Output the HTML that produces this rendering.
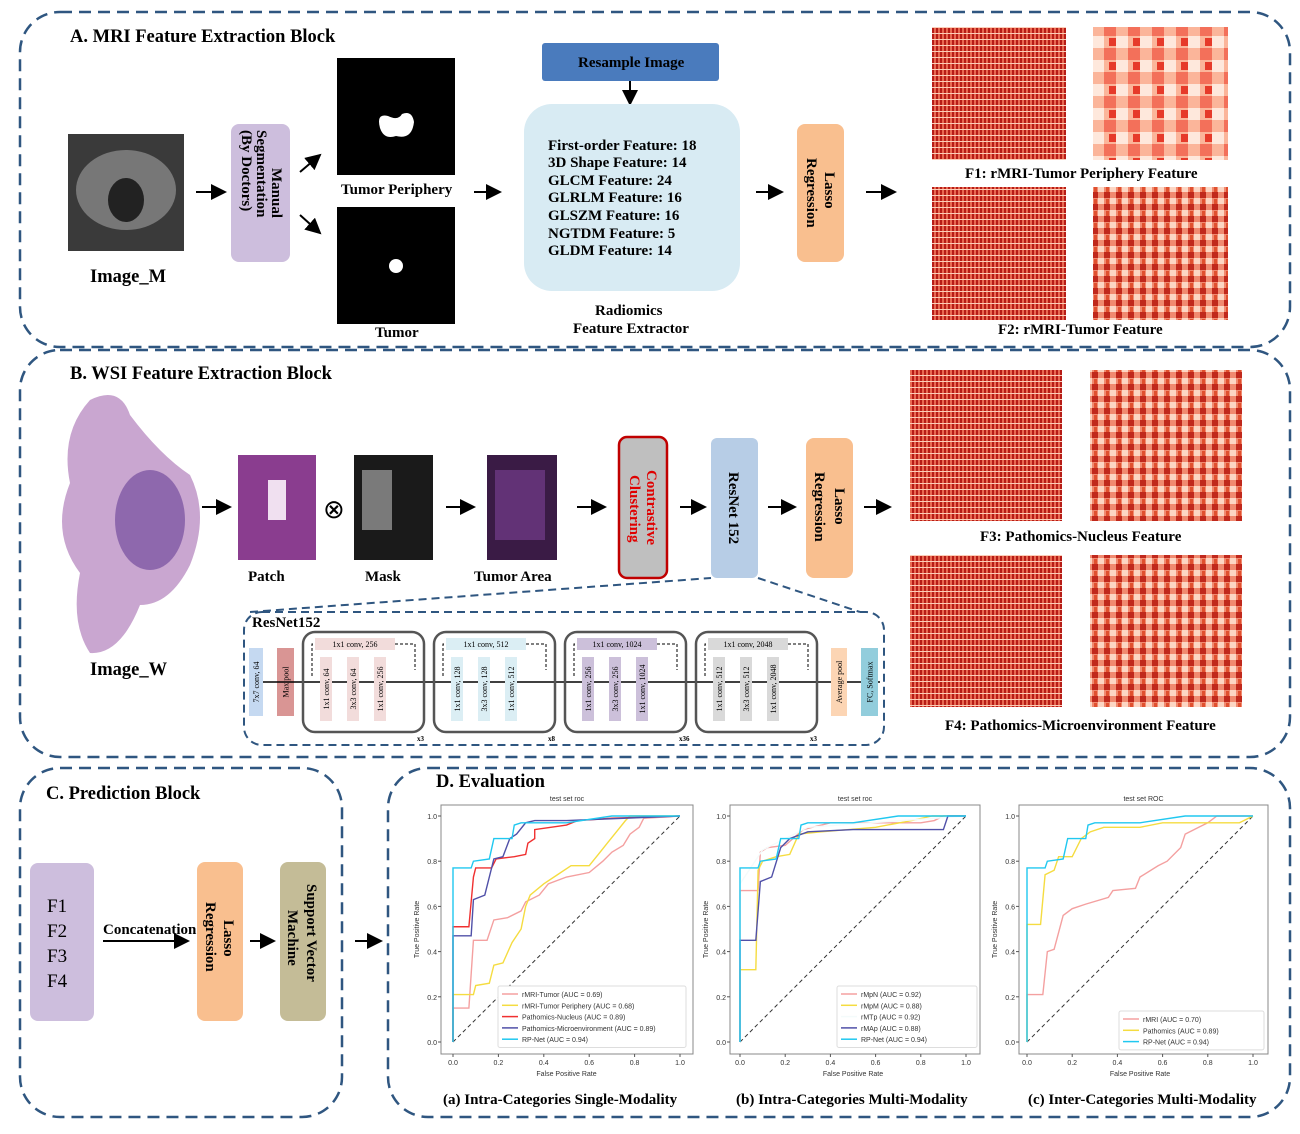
<!DOCTYPE html>
<html><head><meta charset="utf-8"><style>
body{margin:0;background:#fff}
svg{display:block;font-family:"Liberation Serif",serif}
.t{font-weight:bold;font-size:18.5px;fill:#000}
.s{font-weight:bold;font-size:15px;fill:#000}
.d{fill:none;stroke:#2f5680;stroke-width:2.5;stroke-dasharray:12 7}
.ax{font-family:"Liberation Sans",sans-serif;font-size:7px;fill:#333}
</style></head><body>
<svg id="root" width="1300" height="1134" viewBox="0 0 1300 1134">
<defs>
<pattern id="hm1" width="12" height="12" patternUnits="userSpaceOnUse"><rect width="12" height="12" fill="#f08a70"/><rect width="6" height="6" fill="#c0281c"/><rect x="6" y="6" width="6" height="6" fill="#fcd6c4"/><rect x="2" y="7" width="3" height="5" fill="#e0502f"/></pattern>
<pattern id="hm2" width="24" height="24" patternUnits="userSpaceOnUse"><rect width="24" height="24" fill="#fbb59a"/><rect width="12" height="12" fill="#f3705a"/><rect x="12" y="12" width="12" height="12" fill="#fee8dc"/><rect x="5" y="14" width="7" height="8" fill="#e63a2a"/></pattern>
<pattern id="hm3" width="4" height="6" patternUnits="userSpaceOnUse"><rect width="4" height="6" fill="#e86a52"/><rect width="2" height="6" fill="#b71c16"/><rect y="3" width="4" height="1" fill="#fbcdb8"/></pattern>
<marker id="ar" markerWidth="8" markerHeight="8" refX="7" refY="4" orient="auto"><path d="M0,0L8,4L0,8z" fill="#000"/></marker>
</defs>

<!-- Block A -->
<rect class="d" x="20" y="12" width="1270" height="335" rx="40"/>
<text class="t" x="70" y="42">A. MRI Feature Extraction Block</text>
<rect x="68" y="134" width="116" height="117" fill="#3a3a3a"/>
<ellipse cx="126" cy="190" rx="50" ry="40" fill="#777"/><ellipse cx="126" cy="200" rx="18" ry="22" fill="#222"/>
<text class="t" x="90" y="282" font-size="16.5">Image_M</text>
<line x1="196" y1="192" x2="225" y2="192" stroke="#000" stroke-width="2" marker-end="url(#ar)"/>
<rect x="231" y="124" width="59" height="138" rx="8" fill="#cdbedd"/>
<text class="s" transform="translate(272,168) rotate(90)">Manual</text>
<text class="s" transform="translate(257,130) rotate(90)">Segmentation</text>
<text class="s" transform="translate(242,130) rotate(90)">(By Doctors)</text>
<line x1="300" y1="172" x2="320" y2="155" stroke="#000" stroke-width="2" marker-end="url(#ar)"/>
<line x1="300" y1="215" x2="320" y2="233" stroke="#000" stroke-width="2" marker-end="url(#ar)"/>
<rect x="337" y="58" width="118" height="117" fill="#000"/>
<path d="M380,128 q-4,-15 8,-12 q10,5 14,-2 q10,-4 12,8 q-2,18 -18,14 q-12,4 -16,-8z" fill="#fff"/>
<text class="s" x="341" y="194" font-size="16">Tumor Periphery</text>
<rect x="337" y="207" width="118" height="117" fill="#000"/>
<circle cx="396" cy="266" r="7" fill="#fff"/>
<text class="s" x="375" y="337" font-size="16">Tumor</text>
<line x1="474" y1="192" x2="500" y2="192" stroke="#000" stroke-width="2" marker-end="url(#ar)"/>
<rect x="542" y="43" width="177" height="38" rx="3" fill="#4a7bbd"/>
<text class="s" x="578" y="67">Resample Image</text>
<line x1="630" y1="81" x2="630" y2="104" stroke="#000" stroke-width="2" marker-end="url(#ar)"/>
<rect x="524" y="104" width="216" height="187" rx="28" fill="#d8ebf3"/>
<g>
<text class="s" x="548" y="150">First-order  Feature: 18</text>
<text class="s" x="548" y="167">3D Shape Feature: 14</text>
<text class="s" x="548" y="185">GLCM Feature: 24</text>
<text class="s" x="548" y="202">GLRLM Feature: 16</text>
<text class="s" x="548" y="220">GLSZM Feature: 16</text>
<text class="s" x="548" y="238">NGTDM Feature: 5</text>
<text class="s" x="548" y="255">GLDM Feature: 14</text></g>
<text class="s" x="595" y="315">Radiomics</text>
<text class="s" x="573" y="333">Feature Extractor</text>
<line x1="756" y1="192" x2="782" y2="192" stroke="#000" stroke-width="2" marker-end="url(#ar)"/>
<rect x="797" y="124" width="47" height="138" rx="8" fill="#f9bf8f"/>
<text class="s" font-size="16" transform="translate(825,172) rotate(90)">Lasso</text>
<text class="s" font-size="16" transform="translate(807,158) rotate(90)">Regression</text>
<line x1="866" y1="192" x2="895" y2="192" stroke="#000" stroke-width="2" marker-end="url(#ar)"/>
<rect x="932" y="27" width="134" height="133" fill="url(#hm3)"/>
<rect x="1093" y="27" width="135" height="133" fill="url(#hm2)"/>
<text class="s" x="965" y="178">F1:  rMRI-Tumor Periphery Feature</text>
<rect x="932" y="187" width="134" height="133" fill="url(#hm3)"/>
<rect x="1093" y="187" width="135" height="133" fill="url(#hm1)"/>
<text class="s" x="998" y="334">F2:  rMRI-Tumor Feature</text>

<!-- Block B -->
<rect class="d" x="20" y="350" width="1270" height="407" rx="40"/>
<text class="t" x="70" y="379">B. WSI Feature Extraction Block</text>
<path d="M90,400 q30,-15 40,15 q30,40 60,60 q20,40 0,90 q-20,40 -50,40 q-20,50 -50,48 q-20,-30 -10,-80 q-30,-40 -10,-90 q-10,-50 20,-83z" fill="#c9a6d0"/>
<ellipse cx="150" cy="520" rx="35" ry="50" fill="#8e68ad"/>
<text class="t" x="90" y="675" font-size="16.5">Image_W</text>
<line x1="202" y1="507" x2="230" y2="507" stroke="#000" stroke-width="2" marker-end="url(#ar)"/>
<rect x="238" y="455" width="78" height="105" fill="#8a3d8f"/>
<rect x="268" y="480" width="18" height="40" fill="#f0e0f0"/>
<text class="s" x="248" y="581" font-size="15">Patch</text>
<text x="323" y="518" font-size="26" font-family="DejaVu Sans">⊗</text>
<rect x="354" y="455" width="79" height="105" fill="#1a1a1a"/>
<rect x="362" y="470" width="30" height="60" fill="#bbb" opacity=".6"/>
<text class="s" x="365" y="581" font-size="15">Mask</text>
<line x1="446" y1="507" x2="474" y2="507" stroke="#000" stroke-width="2" marker-end="url(#ar)"/>
<rect x="487" y="455" width="70" height="105" fill="#3a1b45"/>
<rect x="495" y="470" width="50" height="70" fill="#8a4aa8" opacity=".5"/>
<text class="s" x="474" y="581" font-size="15">Tumor Area</text>
<line x1="577" y1="507" x2="605" y2="507" stroke="#000" stroke-width="2" marker-end="url(#ar)"/>
<rect x="619" y="437" width="48" height="141" rx="8" fill="#bfbfbf" stroke="#c00000" stroke-width="2.5"/>
<text class="s" style="fill:#e00000" font-size="15" transform="translate(647,470) rotate(90)">Contrastive</text>
<text class="s" style="fill:#e00000" font-size="15" transform="translate(630,475) rotate(90)">Clustering</text>
<line x1="680" y1="507" x2="705" y2="507" stroke="#000" stroke-width="2" marker-end="url(#ar)"/>
<rect x="711" y="438" width="47" height="140" rx="6" fill="#b7cde6"/>
<text class="s" font-size="15" transform="translate(729,472) rotate(90)">ResNet 152</text>
<line x1="768" y1="507" x2="795" y2="507" stroke="#000" stroke-width="2" marker-end="url(#ar)"/>
<rect x="806" y="438" width="47" height="140" rx="8" fill="#f9bf8f"/>
<text class="s" font-size="16" transform="translate(835,488) rotate(90)">Lasso</text>
<text class="s" font-size="16" transform="translate(815,472) rotate(90)">Regression</text>
<line x1="864" y1="507" x2="890" y2="507" stroke="#000" stroke-width="2" marker-end="url(#ar)"/>
<rect x="910" y="370" width="152" height="151" fill="url(#hm3)"/>
<rect x="1090" y="370" width="152" height="151" fill="url(#hm1)"/>
<text class="s" x="980" y="541">F3:  Pathomics-Nucleus Feature</text>
<rect x="910" y="555" width="152" height="152" fill="url(#hm3)"/>
<rect x="1090" y="555" width="152" height="152" fill="url(#hm1)"/>
<text class="s" x="945" y="730">F4:  Pathomics-Microenvironment Feature</text>
<path d="M250,612 L711,578 M758,578 L860,612" stroke="#2f5680" stroke-width="2" stroke-dasharray="8 5" fill="none"/>
<rect x="244" y="612" width="640" height="133" rx="18" fill="none" stroke="#2f5680" stroke-width="2" stroke-dasharray="8 5"/>
<text class="s" x="252" y="627" font-size="12">ResNet152</text>
<g id="resnet" font-size="8"></g>

<!-- Block C -->
<rect class="d" x="20" y="768" width="322" height="349" rx="40"/>
<text class="t" x="46" y="799" font-size="17.5">C. Prediction Block</text>
<rect x="30" y="863" width="64" height="158" rx="8" fill="#cdbedd"/>
<g font-size="19" font-family="Liberation Serif"><text x="47" y="912">F1</text><text x="47" y="937">F2</text><text x="47" y="962">F3</text><text x="47" y="987">F4</text></g>
<text class="s" x="103" y="934" font-size="14.5">Concatenation</text>
<line x1="103" y1="941" x2="188" y2="941" stroke="#000" stroke-width="2" marker-end="url(#ar)"/>
<rect x="197" y="862" width="46" height="159" rx="8" fill="#f9bf8f"/>
<text class="s" font-size="17" transform="translate(224,920) rotate(90)">Lasso</text>
<text class="s" font-size="17" transform="translate(206,902) rotate(90)">Regression</text>
<line x1="250" y1="941" x2="274" y2="941" stroke="#000" stroke-width="2" marker-end="url(#ar)"/>
<rect x="280" y="862" width="46" height="159" rx="8" fill="#c4bc97"/>
<text class="s" font-size="17" transform="translate(307,884) rotate(90)">Support Vector</text>
<text class="s" font-size="17" transform="translate(288,910) rotate(90)">Machine</text>
<line x1="355" y1="941" x2="381" y2="941" stroke="#000" stroke-width="2" marker-end="url(#ar)"/>

<!-- Block D -->
<rect class="d" x="388" y="768" width="902" height="349" rx="40"/>
<text class="t" x="436" y="787" font-size="17.5">D. Evaluation</text>
<g id="charts"></g>
<text class="s" x="443" y="1104" font-size="14.5">(a) Intra-Categories Single-Modality</text>
<text class="s" x="736" y="1104" font-size="14.5">(b) Intra-Categories Multi-Modality</text>
<text class="s" x="1028" y="1104" font-size="14.5">(c) Inter-Categories Multi-Modality</text>
</svg>
<script>
const NS='http://www.w3.org/2000/svg';
function mk(tag,attrs,parent){const e=document.createElementNS(NS,tag);for(const k in attrs)e.setAttribute(k,attrs[k]);parent.appendChild(e);return e;}
// ---- ROC data ----
const ticks=[0,0.2,0.4,0.6,0.8,1.0];
const titlesA=['test set roc','test set roc','test set ROC'];
const rpNet=[[0,0],[0,0.77],[0.08,0.77],[0.09,0.8],[0.16,0.81],[0.18,0.9],[0.26,0.9],[0.27,0.96],[0.3,0.97],[0.5,0.97],[0.7,1],[1,1]];
const aTumor=[[0,0],[0,0.15],[0.07,0.15],[0.09,0.45],[0.15,0.45],[0.18,0.54],[0.24,0.55],[0.3,0.58],[0.32,0.62],[0.38,0.65],[0.42,0.7],[0.5,0.73],[0.6,0.75],[0.66,0.8],[0.7,0.84],[0.75,0.87],[0.78,0.92],[0.82,0.95],[0.84,0.99],[1,1]];
const aPeri=[[0,0],[0,0.21],[0.09,0.21],[0.1,0.25],[0.16,0.26],[0.18,0.34],[0.22,0.35],[0.26,0.44],[0.3,0.5],[0.32,0.6],[0.34,0.65],[0.4,0.7],[0.46,0.74],[0.52,0.78],[0.6,0.78],[0.64,0.83],[0.68,0.88],[0.72,0.93],[0.76,0.98],[0.78,1],[1,1]];
const aNuc=[[0,0],[0,0.51],[0.07,0.51],[0.09,0.73],[0.1,0.77],[0.17,0.77],[0.19,0.81],[0.27,0.82],[0.32,0.83],[0.33,0.88],[0.36,0.9],[0.36,0.94],[0.5,0.96],[0.55,0.98],[0.7,0.99],[1,1]];
const aMicro=[[0,0],[0,0.47],[0.08,0.47],[0.09,0.63],[0.14,0.65],[0.18,0.81],[0.22,0.82],[0.25,0.9],[0.28,0.92],[0.32,0.97],[0.36,0.98],[0.5,0.98],[1,1]];
const bMpN=[[0,0],[0,0.67],[0.08,0.67],[0.09,0.84],[0.12,0.86],[0.2,0.87],[0.28,0.94],[0.4,0.97],[0.8,0.97],[0.86,0.98],[0.9,1],[1,1]];
const bMpM=[[0,0],[0,0.32],[0.07,0.32],[0.08,0.76],[0.1,0.8],[0.16,0.82],[0.22,0.83],[0.26,0.92],[0.36,0.93],[0.6,0.95],[0.76,0.98],[0.85,1],[1,1]];
const bMTp=[[0,0],[0,0.7],[0.1,0.85],[0.3,0.95],[1,1]];
const bMAp=[[0,0],[0,0.45],[0.07,0.45],[0.09,0.71],[0.14,0.73],[0.18,0.86],[0.22,0.9],[0.3,0.93],[0.5,0.94],[0.9,0.94],[0.92,1],[1,1]];
const cMRI=[[0,0],[0,0.21],[0.07,0.21],[0.09,0.4],[0.12,0.41],[0.16,0.56],[0.2,0.59],[0.26,0.61],[0.36,0.64],[0.38,0.67],[0.48,0.68],[0.5,0.73],[0.58,0.78],[0.62,0.8],[0.68,0.86],[0.7,0.92],[0.76,0.95],[0.8,0.97],[0.84,1],[1,1]];
const cPath=[[0,0],[0,0.52],[0.06,0.52],[0.08,0.74],[0.12,0.76],[0.14,0.82],[0.2,0.82],[0.24,0.9],[0.28,0.93],[0.34,0.95],[0.5,0.95],[0.6,0.97],[0.94,0.97],[1,1]];
const labelsA=['rMRI-Tumor (AUC = 0.69)','rMRI-Tumor Periphery (AUC = 0.68)','Pathomics-Nucleus (AUC = 0.89)','Pathomics-Microenvironment (AUC = 0.89)','RP-Net (AUC = 0.94)'];
const labelsB=['rMpN (AUC = 0.92)','rMpM (AUC = 0.88)','rMTp (AUC = 0.92)','rMAp (AUC = 0.88)','RP-Net (AUC = 0.94)'];
const labelsC=['rMRI (AUC = 0.70)','Pathomics (AUC = 0.89)','RP-Net (AUC = 0.94)'];
const charts=[
 {x0:441,x1:693,tx0:453,tx1:680,series:[aTumor,aPeri,aNuc,aMicro,rpNet],labels:labelsA,colors:['#f4a0a0','#f5dc40','#f03030','#5050a8','#20c8f0'],leg:[498,988,188]},
 {x0:730,x1:980,tx0:740,tx1:966,series:[bMpN,bMpM,bMTp,bMAp,rpNet],labels:labelsB,colors:['#f4a0a0','#f5dc40','#f4fbfb','#5050a8','#20c8f0'],leg:[837,988,140]},
 {x0:1019,x1:1268,tx0:1027,tx1:1253,series:[cMRI,cPath,rpNet],labels:labelsC,colors:['#f4a0a0','#f5dc40','#20c8f0'],leg:[1119,1013,145]}];
const g=document.getElementById('charts');
const yTop=805,yBot=1054,ty1=816,ty0=1042;
charts.forEach((c,i)=>{
 const sx=v=>c.tx0+v*(c.tx1-c.tx0), sy=v=>ty0-v*(ty0-ty1);
 const cg=mk('g',{},g);
 
 
 mk('rect',{x:c.x0,y:yTop,width:c.x1-c.x0,height:yBot-yTop,fill:'#fff',stroke:'#888','stroke-width':1},cg);
 const tt=mk('text',{x:(c.x0+c.x1)/2,y:801,'text-anchor':'middle',class:'ax','font-size':'9'},cg);tt.textContent=titlesA[i];
 ticks.forEach(t=>{
  const a=mk('text',{x:sx(t),y:yBot+11,'text-anchor':'middle',class:'ax'},cg);a.textContent=t.toFixed(1);
  const b=mk('text',{x:c.x0-4,y:sy(t)+3,'text-anchor':'end',class:'ax'},cg);b.textContent=t.toFixed(1);
  mk('line',{x1:sx(t),x2:sx(t),y1:yBot,y2:yBot+3,stroke:'#555'},cg);
  mk('line',{x1:c.x0-3,x2:c.x0,y1:sy(t),y2:sy(t),stroke:'#555'},cg);
 });
 const xl=mk('text',{x:(c.tx0+c.tx1)/2,y:yBot+22,'text-anchor':'middle',class:'ax'},cg);xl.textContent='False Positive Rate';
 const yl=mk('text',{transform:`translate(${c.x0-22},${(yTop+yBot)/2}) rotate(-90)`,'text-anchor':'middle',class:'ax'},cg);yl.textContent='True Positive Rate';
 mk('line',{x1:sx(0),y1:sy(0),x2:sx(1),y2:sy(1),stroke:'#333','stroke-dasharray':'4 3','stroke-width':1},cg);
 c.series.forEach((s,j)=>{
  const p=mk('polyline',{points:s.map(d=>sx(d[0])+','+sy(d[1])).join(' '),fill:'none',stroke:c.colors[j],'stroke-width':1.4},cg);
  
  
 });
 const [lx,ly,lw]=c.leg;const n=c.labels.length;
 const lg=mk('g',{},cg);
 
 
 mk('rect',{x:lx,y:ly-2,width:lw,height:n*11.3+5,fill:'#fff',stroke:'#ddd',rx:2},lg);
 c.labels.forEach((l,j)=>{
  const yy=ly+8+j*11.3;
  mk('line',{x1:lx+4,x2:lx+20,y1:yy-2,y2:yy-2,stroke:c.colors[j],'stroke-width':1.5},lg);
  const t=mk('text',{x:lx+24,y:yy+1,class:'ax'},lg);t.textContent=l;
 });
});
// ---- ResNet diagram ----
const r=document.getElementById('resnet');
function box(x,y,w,h,fill,label,rot){mk('rect',{x:x,y:y,width:w,height:h,fill:fill},r);
 const t=mk('text',{transform:rot?`translate(${x+w/2+3},${y+h/2}) rotate(-90)`:`translate(${x+w/2},${y+h/2+3})`,'text-anchor':'middle','font-size':'8','font-family':'Liberation Serif'},r);t.textContent=label;}
box(249,648,14,68,'#c5d9f1','7x7 conv, 64',1);
box(277,648,17,68,'#d99594','Max pool',1);
mk('line',{x1:263,y1:682,x2:880,y2:682,stroke:'#000','stroke-width':1.5},r);
const stages=[[303,'#f2dcdb','1x1 conv, 256',['1x1 conv, 64','3x3 conv, 64','1x1 conv, 256'],'x3'],[434,'#dbeef4','1x1 conv, 512',['1x1 conv, 128','3x3 conv, 128','1x1 conv, 512'],'x8'],[565,'#ccc0da','1x1 conv, 1024',['1x1 conv, 256','3x3 conv, 256','1x1 conv, 1024'],'x36'],[696,'#d9d9d9','1x1 conv, 2048',['1x1 conv, 512','3x3 conv, 512','1x1 conv, 2048'],'x3']];
stages.forEach(s=>{const x=s[0];
 mk('rect',{x:x,y:632,width:121,height:100,rx:12,fill:'none',stroke:'#555','stroke-width':2.5},r);
 mk('path',{d:`M${x+9},676 V644 H${x+112} V670`,fill:'none',stroke:'#000','stroke-dasharray':'3 2'},r);
 box(x+12,638,80,12,s[1],s[2],0);
 s[3].forEach((l,k)=>box(x+17+k*27,657,12,64,s[1],l,1));
 const t=mk('text',{x:x+114,y:741,'font-size':'7','font-weight':'bold'},r);t.textContent=s[4];});
box(831,648,16,68,'#fcd5b4','Average pool',1);
box(861,648,17,68,'#92cddc','FC, Softmax',1);
</script>
</body></html>
